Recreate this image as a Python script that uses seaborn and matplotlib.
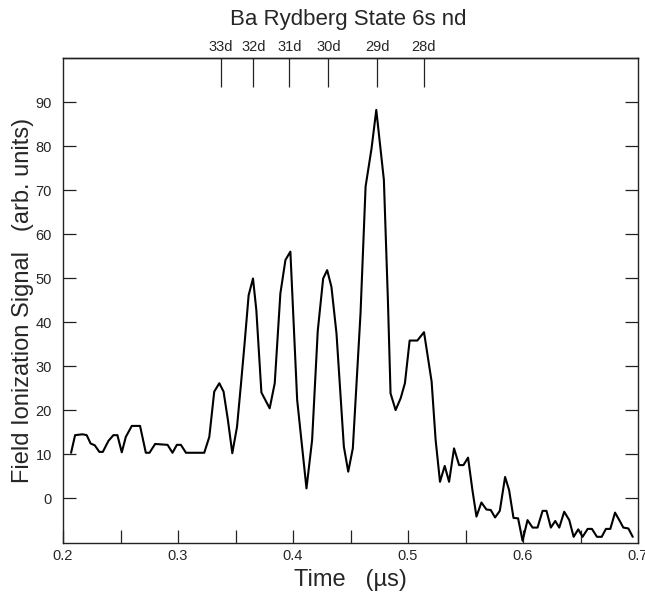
import matplotlib
matplotlib.use("Agg")
import matplotlib.pyplot as plt
from matplotlib.ticker import MultipleLocator
import pandas as pd
import seaborn as sns

# time (us) and field ionization signal (arb. units)
time_us = [0.207, 0.2105, 0.217, 0.2206, 0.224, 0.2276, 0.2316, 0.2346, 0.2395, 0.2438,
           0.2473, 0.2511, 0.2546, 0.2598, 0.267, 0.272, 0.2752, 0.2801, 0.2909, 0.2952,
           0.299, 0.3025, 0.3069, 0.3228, 0.3272, 0.3315, 0.3359, 0.3396, 0.3434, 0.3472,
           0.3513, 0.3548, 0.3579, 0.3614, 0.3652, 0.3681, 0.3725, 0.3797, 0.3841, 0.389,
           0.3934, 0.3977, 0.4036, 0.4117, 0.4166, 0.4215, 0.4262, 0.4297, 0.4334, 0.4378,
           0.4442, 0.448, 0.452, 0.4587, 0.4631, 0.4683, 0.4724, 0.479, 0.4825, 0.4848,
           0.4892, 0.4936, 0.4973, 0.5014, 0.5081, 0.5139, 0.5205, 0.524, 0.5278, 0.5319,
           0.5357, 0.54, 0.5444, 0.5482, 0.5522, 0.556, 0.5595, 0.5638, 0.5682, 0.5719,
           0.5757, 0.5798, 0.5844, 0.5879, 0.5917, 0.5957, 0.5996, 0.6039, 0.6083, 0.6126,
           0.617, 0.6204, 0.6242, 0.628, 0.6315, 0.6358, 0.6402, 0.644, 0.648, 0.6518,
           0.6562, 0.6599, 0.6643, 0.6684, 0.6721, 0.6759, 0.68, 0.6837, 0.6872, 0.6916,
           0.6954]
signal = [10.3, 14.3, 14.5, 14.3, 12.4, 12.0, 10.5, 10.5, 13.0, 14.3,
          14.3, 10.4, 13.9, 16.4, 16.4, 10.3, 10.3, 12.3, 12.1, 10.3,
          12.1, 12.1, 10.3, 10.3, 13.9, 24.2, 26.1, 24.2, 17.7, 10.2,
          16.2, 26.1, 35.2, 46.1, 49.9, 42.7, 24.0, 20.4, 26.1, 46.5,
          54.1, 56.0, 22.3, 2.2, 13.2, 38.0, 49.9, 51.8, 48.0, 37.4,
          11.7, 6.0, 11.3, 42.0, 70.8, 79.5, 88.2, 72.3, 45.0, 23.8,
          20.0, 22.7, 26.1, 35.8, 35.8, 37.7, 26.5, 13.2, 3.7, 7.3,
          3.7, 11.3, 7.5, 7.5, 9.2, 1.8, -4.2, -1.0, -2.6, -2.7,
          -4.4, -2.9, 4.8, 1.8, -4.5, -4.6, -9.7, -5.0, -6.7, -6.7,
          -2.9, -2.9, -6.7, -5.2, -6.7, -3.1, -5.0, -8.8, -7.1, -8.8,
          -7.0, -7.0, -8.8, -8.8, -7.0, -7.0, -3.3, -5.0, -6.7, -6.9,
          -8.8]

# Rydberg state positions marked along the top
state_labels = ["33d", "32d", "31d", "30d", "29d", "28d"]
state_time = [0.3374, 0.3655, 0.3969, 0.4308, 0.4733, 0.5136]

y_ticks = [0, 10, 20, 30, 40, 50, 60, 70, 80, 90]

sns.set_style("ticks")
plt.rcParams["font.family"] = ["Liberation Sans", "DejaVu Sans"]

df = pd.DataFrame({"Time": time_us, "Signal": signal})

fig = plt.figure(figsize=(6.45, 5.98), dpi=100)
ax = fig.add_axes([0.0977, 0.092, 0.8915, 0.811])

sns.lineplot(data=df, x="Time", y="Signal", color="black", linewidth=1.5, ax=ax)

ax.set_xlim(0.2, 0.7)
ax.set_ylim(-10.2, 100)
ax.xaxis.set_major_locator(MultipleLocator(0.1))
ax.xaxis.set_minor_locator(MultipleLocator(0.05))
ax.set_yticks(y_ticks)

for side in ["left", "right", "top", "bottom"]:
    ax.spines[side].set_visible(True)
    ax.spines[side].set_linewidth(1.0)
    ax.spines[side].set_color("#222222")

ax.tick_params(axis="y", which="both", direction="in", length=9.5, width=0.9,
               left=True, right=True, labelsize=10.5, pad=8, color="#222222")
ax.tick_params(axis="x", which="both", direction="in", length=9.5, width=0.9,
               bottom=True, top=False, labelsize=10.5, pad=4, color="#222222")

# state markers on the top spine
top = ax.secondary_xaxis("top")
top.set_xticks(state_time)
top.set_xticklabels(state_labels)
top.tick_params(axis="x", direction="in", length=21, width=0.9, labelsize=10.5,
                pad=3, color="#222222")
top.spines["top"].set_linewidth(1.0)

ax.set_xlabel("Time   (\u00b5s)", fontsize=17, labelpad=5)
ax.set_ylabel("Field Ionization Signal   (arb. units)", fontsize=17, labelpad=1)
fig.suptitle("Ba Rydberg State 6s nd", fontsize=16, x=0.54, y=0.985)

fig.savefig("out.png", dpi=100)
